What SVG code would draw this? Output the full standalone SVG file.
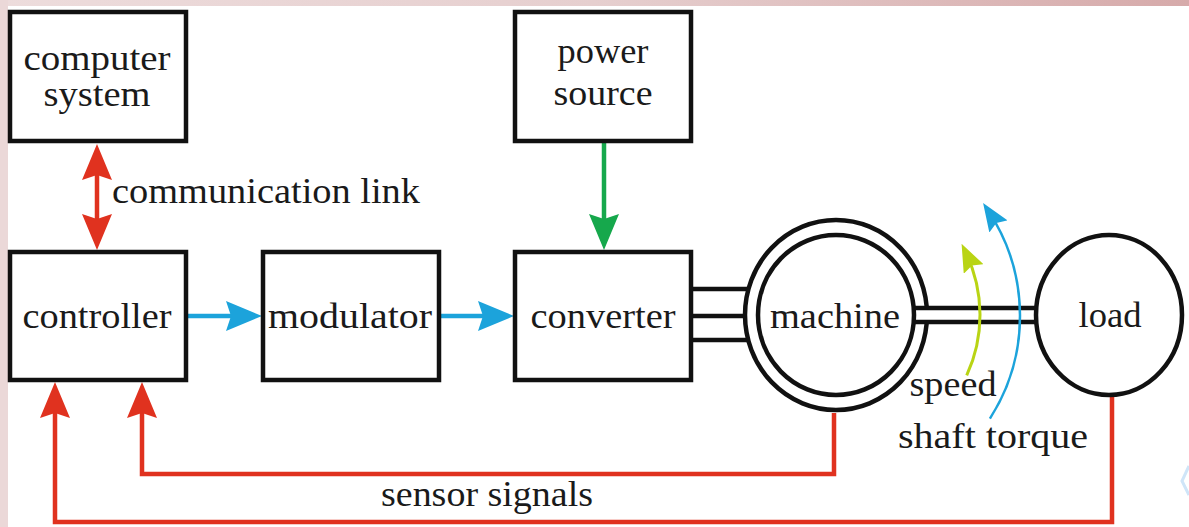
<svg xmlns="http://www.w3.org/2000/svg" width="1189" height="527" viewBox="0 0 1189 527" font-family="Liberation Serif, DejaVu Serif, serif">
<style>
.box{fill:#fff;stroke:#111;stroke-width:4.5}
.ring{fill:#fff;stroke:#111;stroke-width:4.5}
.wire{stroke:#111;stroke-width:4.5;fill:none}
text{font-family:"Liberation Serif",serif;font-size:35px;fill:#1a1a1a}
.red{stroke:#e0321f;stroke-width:4.5;fill:none}
.blue{stroke:#1ca3db;stroke-width:4.5;fill:none}
.green{stroke:#16a84c;stroke-width:4.5;fill:none}
</style>
<defs>
<linearGradient id="topband" x1="0" y1="0" x2="1" y2="0">
<stop offset="0" stop-color="#eddcdc"/>
<stop offset="0.5" stop-color="#e6cfcf"/>
<stop offset="1" stop-color="#d6aaaa"/>
</linearGradient>
<marker id="hRed" viewBox="0 0 36 30" refX="26" refY="15" markerWidth="36" markerHeight="30" markerUnits="userSpaceOnUse" orient="auto-start-reverse"><path d="M0,0 L36,15 L0,30 L5,15 z" fill="#e0321f"/></marker>
<marker id="hBlue" viewBox="0 0 36 30" refX="26" refY="15" markerWidth="36" markerHeight="30" markerUnits="userSpaceOnUse" orient="auto"><path d="M0,0 L36,15 L0,30 L5,15 z" fill="#1ca3db"/></marker>
<marker id="hGreen" viewBox="0 0 36 30" refX="26" refY="15" markerWidth="36" markerHeight="30" markerUnits="userSpaceOnUse" orient="auto"><path d="M0,0 L36,15 L0,30 L5,15 z" fill="#16a84c"/></marker>
<marker id="hLime" viewBox="0 0 28 22" refX="18" refY="11" markerWidth="28" markerHeight="22" markerUnits="userSpaceOnUse" orient="auto"><path d="M0,0 L28,11 L0,22 L4,11 z" fill="#b9d414"/></marker>
<marker id="hSky" viewBox="0 0 28 22" refX="18" refY="11" markerWidth="28" markerHeight="22" markerUnits="userSpaceOnUse" orient="auto"><path d="M0,0 L28,11 L0,22 L4,11 z" fill="#1ca3db"/></marker>
</defs>
<rect x="0" y="0" width="1189" height="527" fill="#fff"/>
<rect x="0" y="0" width="1189" height="6" fill="url(#topband)"/>
<rect x="0" y="0" width="8" height="527" fill="#ebd8d8"/>
<polyline points="1189,466 1182,481 1189,495" fill="none" stroke="#cfe5f8" stroke-width="3"/>

<g id="connectors">
<line class="red" x1="97" y1="154" x2="97" y2="240" marker-start="url(#hRed)" marker-end="url(#hRed)"/>
<line class="green" x1="604" y1="143" x2="604" y2="240" marker-end="url(#hGreen)"/>
<line class="blue" x1="187" y1="316" x2="252" y2="316" marker-end="url(#hBlue)"/>
<line class="blue" x1="441" y1="316" x2="504" y2="316" marker-end="url(#hBlue)"/>
<path class="red" d="M834,413 V474 H142 V392" marker-end="url(#hRed)"/>
<path class="red" d="M1112,397 V522 H55 V392" marker-end="url(#hRed)"/>
<line class="wire" x1="691" y1="289" x2="748" y2="289"/>
<line class="wire" x1="691" y1="316" x2="746" y2="316"/>
<line class="wire" x1="691" y1="340" x2="748" y2="340"/>
</g>

<g id="machine">
<ellipse class="ring" cx="836" cy="315" rx="91" ry="95"/>
<ellipse class="ring" cx="836" cy="315" rx="78" ry="80"/>
<text x="835" y="328" text-anchor="middle" textLength="130" lengthAdjust="spacingAndGlyphs">machine</text>
</g>

<g id="shaft">
<rect x="917" y="308" width="120" height="14" fill="#fff"/>
<line class="wire" x1="913" y1="308" x2="1038" y2="308"/>
<line class="wire" x1="913" y1="322" x2="1038" y2="322"/>
</g>

<g id="load">
<ellipse class="ring" cx="1109" cy="315" rx="73" ry="80"/>
<text x="1110" y="327" text-anchor="middle" textLength="63" lengthAdjust="spacingAndGlyphs">load</text>
</g>

<g id="rotation">
<path d="M966.7,375.4 A144,144 0 0 0 965.9,252.8" fill="none" stroke="#b9d414" stroke-width="3" marker-end="url(#hLime)"/>
<path d="M989.9,418.6 A190,190 0 0 0 988.6,211.4" fill="none" stroke="#1ca3db" stroke-width="2.5" marker-end="url(#hSky)"/>
<text x="953" y="396" text-anchor="middle" textLength="87" lengthAdjust="spacingAndGlyphs">speed</text>
<text x="993" y="448" text-anchor="middle" textLength="190" lengthAdjust="spacingAndGlyphs">shaft torque</text>
</g>

<g id="computer-system">
<rect class="box" x="10" y="12" width="176" height="129"/>
<text x="97" y="70" text-anchor="middle" textLength="147" lengthAdjust="spacingAndGlyphs">computer</text>
<text x="97" y="106" text-anchor="middle" textLength="107" lengthAdjust="spacingAndGlyphs">system</text>
</g>

<g id="power-source">
<rect class="box" x="515" y="12" width="176" height="129"/>
<text x="603" y="63" text-anchor="middle" textLength="91" lengthAdjust="spacingAndGlyphs">power</text>
<text x="603" y="105" text-anchor="middle" textLength="99" lengthAdjust="spacingAndGlyphs">source</text>
</g>

<g id="controller">
<rect class="box" x="10" y="252" width="176" height="128"/>
<text x="97" y="328" text-anchor="middle" textLength="149" lengthAdjust="spacingAndGlyphs">controller</text>
</g>

<g id="modulator">
<rect class="box" x="263" y="252" width="176" height="128"/>
<text x="350" y="328" text-anchor="middle" textLength="164" lengthAdjust="spacingAndGlyphs">modulator</text>
</g>

<g id="converter">
<rect class="box" x="515" y="252" width="176" height="128"/>
<text x="603" y="328" text-anchor="middle" textLength="145" lengthAdjust="spacingAndGlyphs">converter</text>
</g>

<g id="labels">
<text x="112" y="203" textLength="308" lengthAdjust="spacingAndGlyphs">communication link</text>
<text x="381" y="506" textLength="212" lengthAdjust="spacingAndGlyphs">sensor signals</text>
</g>
</svg>
